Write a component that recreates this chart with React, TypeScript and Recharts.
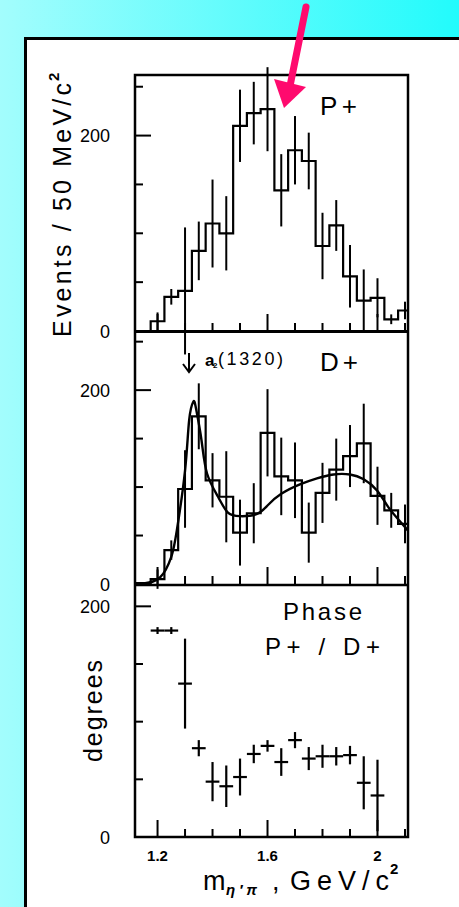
import React from "react";
import { ComposedChart, Line, Scatter, ErrorBar, XAxis, YAxis } from "recharts";

// bin centres, 50 MeV bins (GeV/c^2)
const massBins = [1.15, 1.2, 1.25, 1.3, 1.35, 1.4, 1.45, 1.5, 1.55, 1.6, 1.65, 1.7, 1.75, 1.8, 1.85, 1.9, 1.95, 2.0, 2.05, 2.1];
const pEvents = [0, 10, 35, 41, 82, 110, 100, 210, 223, 227, 144, 185, 174, 87, 108, 56, 31, 34, 12, 21];
const pErrors = [0, 9, 8, 65, 30, 45, 38, 37, 32, 43, 37, 35, 29, 34, 26, 32, 32, 20, 5, 9];
const dEvents = [1, 5, 35, 98, 173, 107, 90, 53, 73, 156, 111, 107, 53, 94, 118, 132, 145, 91, 76, 62];
const dErrors = [0, 10, 10, 40, 34, 28, 47, 34, 31, 45, 40, 39, 31, 31, 32, 32, 41, 30, 18, 20];

const fitMass = [1.15, 1.21, 1.25, 1.27, 1.3, 1.315, 1.33, 1.34, 1.36, 1.38, 1.42, 1.455, 1.5, 1.56, 1.6, 1.65, 1.72, 1.78, 1.84, 1.9, 1.95, 2.0, 2.04, 2.09, 2.12];
const fitEvents = [0.5, 7, 28, 55, 117, 169, 188, 181, 148, 114, 90, 74, 70, 72, 81, 93, 103, 109, 113, 113, 108, 96, 79, 62, 52];

// relative phase P+ / D+
const phaseMass = [1.2, 1.25, 1.3, 1.35, 1.4, 1.45, 1.5, 1.55, 1.6, 1.65, 1.7, 1.75, 1.8, 1.85, 1.9, 1.95, 2.0];
const phaseDeg = [179, 179, 133, 77, 48, 44, 52, 72, 79, 65, 84, 68, 70, 70, 71, 47, 36];
const phaseErr = [3, 3, 39, 7, 17, 18, 16, 8, 5, 12, 7, 10, 10, 8, 8, 23, 31];

const massTicks = [1.2, 1.3, 1.4, 1.5, 1.6, 1.7, 1.8, 1.9, 2.0, 2.1];
const majorMass = [1.2, 1.6, 2.0];
const massLabels = ["1.2", "1.6", "2"];
const eventTicks = [0, 50, 100, 150, 200, 250];
const degreeTicks = [0, 50, 100, 150, 200];
const valueLabels = [0, 200];

const W = 459;
const H = 907;
const LEFT = 135;
const RIGHT = 408;
const FONT = "'Liberation Sans', Arial, sans-serif";
const massDomain: [number, number] = [1.118, 2.111];

const toSteps = (vals: number[]) => [
  { x: massBins[0] - 0.025, v: 0 },
  ...massBins.map((m, i) => ({ x: m - 0.025, v: vals[i] })),
  { x: massBins[massBins.length - 1] + 0.025, v: vals[vals.length - 1] },
];
const toBars = (vals: number[], errs: number[]) =>
  massBins.map((m, i) => ({ x: m, v: vals[i], e: errs[i] }));

const pSteps = toSteps(pEvents);
const pBars = toBars(pEvents, pErrors);
const dSteps = toSteps(dEvents);
const dBars = toBars(dEvents, dErrors);
const fitData = fitMass.map((m, i) => ({ x: m, v: fitEvents[i] }));
const phaseData = phaseMass.map((m, i) => ({ x: m, v: phaseDeg[i], e: phaseErr[i], ex: 0.025 }));

function MassTick(props: any) {
  const { x, y, payload, showLabel } = props;
  const idx = majorMass.findIndex((m) => Math.abs(m - payload.value) < 1e-6);
  const len = idx >= 0 ? 17 : 8;
  return (
    <g>
      <line x1={x} x2={x} y1={y} y2={y - len} stroke="#000" strokeWidth={2} />
      {showLabel && idx >= 0 && (
        <text
          x={x}
          y={y + 24}
          textAnchor="middle"
          fontFamily={FONT}
          fontWeight="bold"
          fontSize={15}
          fill="#000"
        >
          {massLabels[idx]}
        </text>
      )}
    </g>
  );
}

function ValueTick(props: any) {
  const { x, y, payload } = props;
  const v = payload.value;
  const len = v === 200 ? 16 : 8;
  return (
    <g>
      <line x1={x} x2={x + len} y1={y} y2={y} stroke="#000" strokeWidth={2} />
      {valueLabels.includes(v) && (
        <text x={110} y={y + 6.5} textAnchor="end" fontFamily={FONT} fontSize={18} fill="#000">
          {v}
        </text>
      )}
    </g>
  );
}

function Panel({ top, bottom, yMax, yTicks, showX, children }: any) {
  return (
    <div style={{ position: "absolute", left: 0, top: 0 }}>
      <ComposedChart
        width={W}
        height={H}
        margin={{ top, bottom: H - bottom - 1, left: LEFT - 1, right: W - RIGHT }}
      >
        <XAxis
          type="number"
          dataKey="x"
          domain={massDomain}
          allowDataOverflow
          ticks={massTicks}
          interval={0}
          height={1}
          axisLine={false}
          tickLine={false}
          tickSize={0}
          tickMargin={0}
          tick={(p: any) => <MassTick {...p} showLabel={showX} />}
        />
        <YAxis
          type="number"
          dataKey="v"
          domain={[0, yMax]}
          allowDataOverflow
          ticks={yTicks}
          interval={0}
          width={1}
          axisLine={false}
          tickLine={false}
          tickSize={0}
          tickMargin={0}
          tick={(p: any) => <ValueTick {...p} />}
        />
        {children}
      </ComposedChart>
    </div>
  );
}

const noDot = () => <g />;

export default function App() {
  return (
    <div
      style={{
        position: "absolute",
        left: 0,
        top: 0,
        width: W,
        height: H,
        overflow: "hidden",
        background: "linear-gradient(to right, #a3fdfd, #22fbfc)",
        fontFamily: FONT,
      }}
    >
      <div
        style={{
          position: "absolute",
          left: 24,
          top: 37,
          right: -10,
          bottom: -10,
          background: "#fff",
          borderLeft: "3px solid #000",
          borderTop: "3px solid #000",
        }}
      />

      <Panel top={75} bottom={331} yMax={262} yTicks={eventTicks} showX={false}>
        <Line data={pSteps} dataKey="v" type="stepAfter" stroke="#000" strokeWidth={2.2} dot={false} isAnimationActive={false} />
        <Scatter data={pBars} dataKey="v" shape={noDot} isAnimationActive={false}>
          <ErrorBar dataKey="e" direction="y" width={0} stroke="#000" strokeWidth={2} />
        </Scatter>
      </Panel>

      <Panel top={331} bottom={584} yMax={261} yTicks={eventTicks} showX={false}>
        <Line data={dSteps} dataKey="v" type="stepAfter" stroke="#000" strokeWidth={2.2} dot={false} isAnimationActive={false} />
        <Scatter data={dBars} dataKey="v" shape={noDot} isAnimationActive={false}>
          <ErrorBar dataKey="e" direction="y" width={0} stroke="#000" strokeWidth={2} />
        </Scatter>
        <Line data={fitData} dataKey="v" type="natural" stroke="#000" strokeWidth={2.4} dot={false} isAnimationActive={false} />
      </Panel>

      <Panel top={585} bottom={837} yMax={218.5} yTicks={degreeTicks} showX={true}>
        <Scatter data={phaseData} dataKey="v" shape={noDot} isAnimationActive={false}>
          <ErrorBar dataKey="e" direction="y" width={0} stroke="#000" strokeWidth={2.2} />
          <ErrorBar dataKey="ex" direction="x" width={0} stroke="#000" strokeWidth={2.2} />
        </Scatter>
      </Panel>

      <svg width={W} height={H} style={{ position: "absolute", left: 0, top: 0 }}>
        {/* frames */}
        <rect x={LEFT} y={75} width={RIGHT - LEFT} height={762} fill="none" stroke="#000" strokeWidth={2.5} />
        <line x1={LEFT} x2={RIGHT} y1={331.5} y2={331.5} stroke="#000" strokeWidth={3} />
        <line x1={LEFT} x2={RIGHT} y1={585} y2={585} stroke="#000" strokeWidth={2.5} />

        {/* panel labels */}
        <text x={320} y={115} fontFamily={FONT} fontSize={26} textLength={37} fill="#000">P+</text>
        <text x={320} y={371} fontFamily={FONT} fontSize={26} textLength={38} fill="#000">D+</text>
        <text x={283} y={620} fontFamily={FONT} fontSize={24} textLength={79} fill="#000">Phase</text>
        <text x={265} y={655} fontFamily={FONT} fontSize={24} textLength={115} fill="#000">P+ / D+</text>

        {/* a2(1320) marker */}
        <line x1={189} x2={189} y1={353} y2={371} stroke="#000" strokeWidth={2} />
        <polyline points="183,364 189,372 195,364" fill="none" stroke="#000" strokeWidth={2} />
        <text x={205} y={366} fontFamily={FONT} fontSize={17} fontWeight="bold" fill="#000">a</text>
        <text x={213} y={368} fontFamily={FONT} fontSize={8} fontWeight="bold" fill="#000">2</text>
        <text x={218} y={365} fontFamily={FONT} fontSize={18} textLength={65} fill="#000">(1320)</text>

        {/* axis titles */}
        <g transform="translate(62,203) rotate(-90)">
          <text x={-134} y={9} fontFamily={FONT} fontSize={25} textLength={254} fill="#000">
            Events / 50 MeV/c
          </text>
          <text x={122} y={-3} fontFamily={FONT} fontSize={15} fontWeight="bold" fill="#000">2</text>
        </g>
        <g transform="translate(95,711) rotate(-90)">
          <text x={-51} y={7} fontFamily={FONT} fontSize={25} textLength={102} fill="#000">degrees</text>
        </g>
        <text x={203} y={890} fontFamily={FONT} fontSize={27} fill="#000">m</text>
        <text x={226} y={895} fontFamily={FONT} fontSize={15} fontStyle="italic" fontWeight="bold" textLength={31} fill="#000">η′π</text>
        <text x={272} y={890} fontFamily={FONT} fontSize={27} fill="#000">,</text>
        <text x={290} y={890} fontFamily={FONT} fontSize={27} textLength={99} fill="#000">GeV/c</text>
        <text x={390} y={874} fontFamily={FONT} fontSize={15} fontWeight="bold" fill="#000">2</text>

        {/* pink arrow */}
        <line x1={306} y1={7} x2={290} y2={86} stroke="#ff0a6e" strokeWidth={7} strokeLinecap="round" />
        <polygon points="274,79 306,87 284,108" fill="#ff0a6e" />
      </svg>
    </div>
  );
}
